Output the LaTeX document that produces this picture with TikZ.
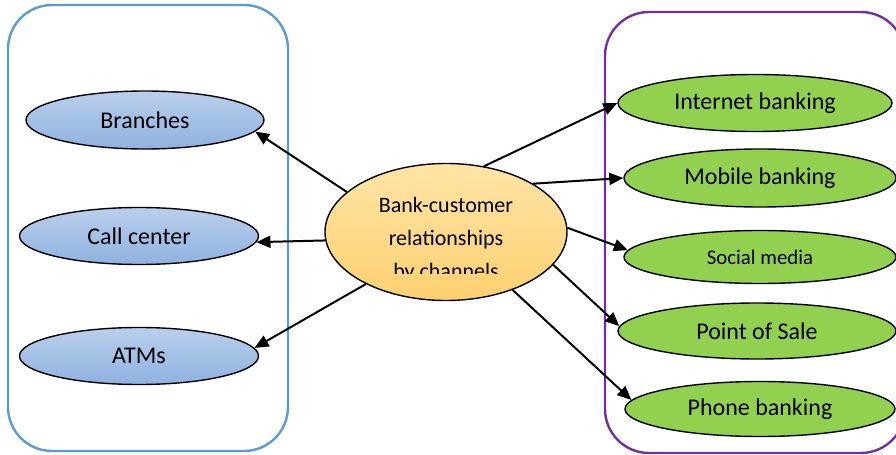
\documentclass[tikz,border=0pt]{standalone}
\usepackage{fontspec}
\setmainfont{Carlito}
\usetikzlibrary{arrows.meta,shapes.geometric}
\definecolor{leftTop}{RGB}{186,207,236}
\definecolor{leftBottom}{RGB}{143,178,224}
\definecolor{hubTop}{RGB}{254,228,166}
\definecolor{hubBottom}{RGB}{253,208,112}
\definecolor{rightColor}{RGB}{146,208,80}
\definecolor{leftFrame}{RGB}{91,155,213}
\definecolor{rightFrame}{RGB}{112,48,160}
\tikzset{channel/.style={ellipse, draw, line width=0.7pt, inner sep=0pt, font=\fontsize{12}{14}\selectfont}}
\tikzset{leftchannel/.style={channel, top color=leftTop, bottom color=leftBottom}}
\tikzset{rightchannel/.style={channel, fill=rightColor}}
\tikzset{bankhub/.style={channel, top color=hubTop, bottom color=hubBottom, minimum width=121pt, minimum height=68.5pt}}
\tikzset{frame/.style={line width=1.2pt, rounded corners=22pt}}

\begin{document}
\begin{tikzpicture}[x=0.5pt, y=-0.5pt]
\useasboundingbox (0,0) rectangle (896,455);
\clip (0,0) rectangle (896,455);

% Frames
    \draw [frame, leftFrame] (8,5) rectangle (288,451);
    \draw [frame, rightFrame] (605,12) rectangle (905,453);

% Nodes
    \node (Hub) [bankhub] at (446,232) {};
    \begin{scope}
    \clip (330,170) rectangle (560,273);
    \node (HubText) [align=center, font=\fontsize{11}{16.5}\selectfont] at (446,240) {Bank-customer\\ relationships\\ by channels};
    \end{scope}

    \node (Branches) [leftchannel, minimum width=119pt, minimum height=29pt] at (145,120) {Branches};
    \node (CallCenter) [leftchannel, minimum width=119.5pt, minimum height=28.5pt] at (139,236) {Call center};
    \node (ATMs) [leftchannel, minimum width=119.5pt, minimum height=28.5pt] at (139,356) {ATMs};

    \node (Internet) [rightchannel, minimum width=137pt, minimum height=28.5pt] at (755,103) {Internet banking};
    \node (Mobile) [rightchannel, minimum width=136pt, minimum height=29pt] at (760,178) {Mobile banking};
    \node (Social) [rightchannel, minimum width=136pt, minimum height=26.5pt, font=\fontsize{10.4}{12}\selectfont] at (760,257) {Social media};
    \node (PointOfSale) [rightchannel, minimum width=139pt, minimum height=28pt] at (757,331) {Point of Sale};
    \node (Phone) [rightchannel, minimum width=135pt, minimum height=27.5pt] at (760,409) {Phone banking};

% Connectors
\begin{scope}[line width=1pt]

    \draw [-{Triangle[length=7pt, width=6pt]}] (Hub.158) -- (Branches.-6);
    \draw [-{Triangle[length=7pt, width=6pt]}] (Hub.184) -- (CallCenter.-3);
    \draw [-{Triangle[length=7pt, width=6pt]}] (Hub.213) -- (ATMs.4);

    \draw [-{Triangle[length=7pt, width=6pt]}] (Hub.60) -- (Internet.180);
    \draw [-{Triangle[length=7pt, width=6pt]}] (Hub.29) -- (Mobile.180);
    \draw [-{Triangle[length=7pt, width=6pt]}] (Hub.2) -- (Social.177);
    \draw [-{Triangle[length=7pt, width=6pt]}] (Hub.-17) -- (PointOfSale.178);
    \draw [-{Triangle[length=7pt, width=6pt]}] (Hub.-41) -- (Phone.176);

\end{scope}

\end{tikzpicture}
\end{document}
